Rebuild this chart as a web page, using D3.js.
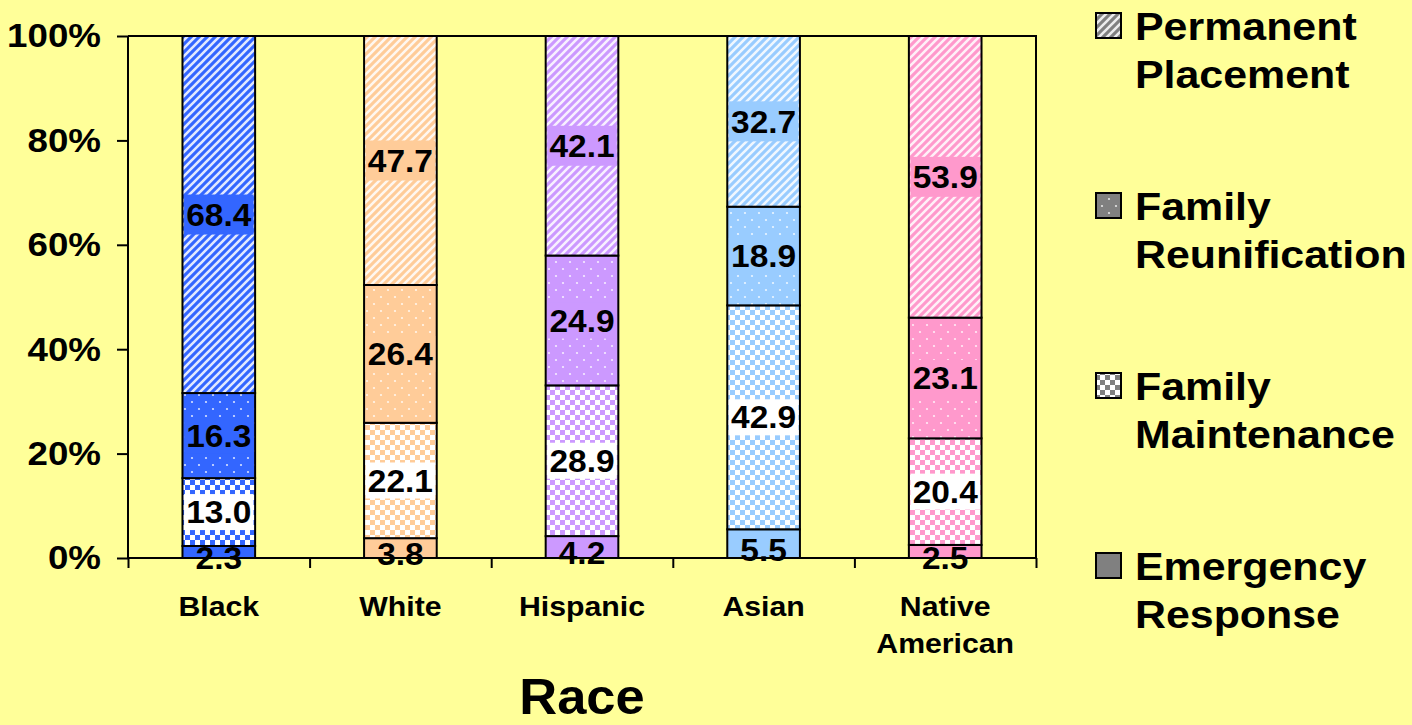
<!DOCTYPE html>
<html>
<head>
<meta charset="utf-8">
<script src="https://cdn.jsdelivr.net/npm/d3@7"></script>
<style>
  body { margin: 0; background: #FFFF99; }
  text { font-family: Arial, "Liberation Sans", sans-serif; font-weight: bold; fill: #000; }
</style>
</head>
<body>
<svg id="chart"></svg>
<script>
// categories and series (bottom to top of each stack)
const categories = ["Black", "White", "Hispanic", "Asian", "Native American"];
const seriesNames = ["Emergency Response", "Family Maintenance", "Family Reunification", "Permanent Placement"];
const emergency = [2.3, 3.8, 4.2, 5.5, 2.5];
const maintenance = [13.0, 22.1, 28.9, 42.9, 20.4];
const reunification = [16.3, 26.4, 24.9, 18.9, 23.1];
const permanent = [68.4, 47.7, 42.1, 32.7, 53.9];
const yTicks = [0, 0.2, 0.4, 0.6, 0.8, 1];

// colour of each category's bar, pattern of each series
const barColors = ["#3366FF", "#FFCC99", "#CC99FF", "#99CCFF", "#FF99CC"];
const seriesPatterns = ["solid", "checker", "dots", "stripes"];

const width = 1412, height = 725;
const margin = { top: 36, left: 128, right: 376, bottom: 167 };
const plotRight = width - margin.right;
const plotBottom = height - margin.bottom;
// the original text is drawn slightly wide
const stretch = 1.08;

const svg = d3.select("#chart")
    .attr("width", width)
    .attr("height", height);

svg.append("rect")
    .attr("width", width)
    .attr("height", height)
    .attr("fill", "#FFFF99");

// build rows for the stack
const table = categories.map((c, i) => ({
    category: c,
    "Emergency Response": emergency[i],
    "Family Maintenance": maintenance[i],
    "Family Reunification": reunification[i],
    "Permanent Placement": permanent[i]
}));

const stacked = d3.stack()
    .keys(seriesNames)
    .offset(d3.stackOffsetExpand)(table);

const x = d3.scaleBand()
    .domain(categories)
    .range([margin.left, plotRight])
    .paddingInner(0.6)
    .paddingOuter(0.3);

const xSlots = d3.scaleLinear()
    .domain([0, categories.length])
    .range([margin.left, plotRight]);

const y = d3.scaleLinear()
    .domain([0, 1])
    .range([plotBottom, margin.top]);

// fill patterns
const defs = svg.append("defs");

function makePattern(id, type, color) {
    if (type === "solid") return color;
    let p = defs.append("pattern")
        .attr("id", id)
        .attr("patternUnits", "userSpaceOnUse");
    if (type === "stripes") {
        p.attr("width", 8).attr("height", 8);
        p.append("rect").attr("width", 8).attr("height", 8).attr("fill", color);
        p.append("path")
            .attr("d", "M-2,2 L2,-2 M0,8 L8,0 M6,10 L10,6")
            .attr("stroke", "#fff")
            .attr("stroke-width", 2.6)
            .attr("opacity", 0.85);
    } else if (type === "checker") {
        p.attr("width", 10).attr("height", 10);
        p.append("rect").attr("width", 10).attr("height", 10).attr("fill", "#fff");
        p.append("rect").attr("width", 5).attr("height", 5).attr("fill", color);
        p.append("rect").attr("x", 5).attr("y", 5).attr("width", 5).attr("height", 5).attr("fill", color);
    } else if (type === "dots") {
        p.attr("width", 14).attr("height", 14);
        p.append("rect").attr("width", 14).attr("height", 14).attr("fill", color);
        p.append("circle").attr("cx", 3).attr("cy", 3).attr("r", 1.1).attr("fill", "#fff").attr("opacity", 0.8);
        p.append("circle").attr("cx", 10).attr("cy", 10).attr("r", 1.1).attr("fill", "#fff").attr("opacity", 0.8);
    }
    return "url(#" + id + ")";
}

function fillFor(si, ci) {
    return makePattern("p" + si + "_" + ci, seriesPatterns[si], barColors[ci]);
}

// plot frame (top and right)
svg.append("path")
    .attr("d", "M" + margin.left + "," + margin.top + "H" + plotRight + "V" + plotBottom)
    .attr("fill", "none")
    .attr("stroke", "#000")
    .attr("stroke-width", 2);

// bars
const layers = svg.append("g")
    .selectAll("g")
    .data(stacked)
    .enter()
    .append("g");

layers.selectAll("rect")
    .data((d, si) => d.map((v, ci) => ({ v: v, si: si, ci: ci })))
    .enter()
    .append("rect")
    .attr("x", d => x(categories[d.ci]))
    .attr("y", d => y(d.v[1]))
    .attr("width", x.bandwidth())
    .attr("height", d => y(d.v[0]) - y(d.v[1]))
    .attr("fill", d => fillFor(d.si, d.ci))
    .attr("stroke", "#000")
    .attr("stroke-width", 2);

// axes
const yAxis = svg.append("g")
    .attr("transform", "translate(" + margin.left + ",0)")
    .call(d3.axisLeft(y).tickValues(yTicks).tickFormat(d3.format(".0%")).tickSize(11).tickPadding(16));
yAxis.selectAll("text")
    .style("font-size", "34px")
    .attr("transform", "translate(-27,0) scale(" + stretch + ",1) translate(27,0)");

const xAxis = svg.append("g")
    .attr("transform", "translate(0," + plotBottom + ")")
    .call(d3.axisBottom(xSlots).tickValues(d3.range(categories.length + 1)).tickFormat("").tickSize(10));

svg.selectAll(".domain").attr("stroke-width", 2);
svg.selectAll(".tick line").attr("stroke-width", 2);
yAxis.select(".domain").attr("d", "M0," + margin.top + "V" + plotBottom);
xAxis.select(".domain").attr("d", "M" + margin.left + ",0H" + plotRight);

// data labels
const labelG = svg.append("g");
stacked.forEach((layer, si) => {
    layer.forEach((v, ci) => {
        let raw = [emergency, maintenance, reunification, permanent][si][ci];
        let cy = (y(v[0]) + y(v[1])) / 2 + (si === 0 ? 6 : 0);
        let cx = x(categories[ci]) + x.bandwidth() / 2;
        let g = labelG.append("g")
            .attr("transform", "translate(" + cx + "," + cy + ") scale(" + stretch + ",1)");
        let t = g.append("text")
            .attr("dy", "0.36em")
            .attr("text-anchor", "middle")
            .style("font-size", "31px")
            .text(d3.format(".1f")(raw));
        if (si > 0) {
            let b = t.node().getBBox();
            let h = si === 3 ? 40 : 36;
            g.insert("rect", "text")
                .attr("x", b.x - 2)
                .attr("y", -h / 2)
                .attr("width", b.width + 4)
                .attr("height", h)
                .attr("fill", si === 1 ? "#fff" : barColors[ci]);
        }
    });
});

// category labels
categories.forEach(c => {
    let cx = x(c) + x.bandwidth() / 2;
    let t = svg.append("text")
        .attr("transform", "translate(" + cx + ",616) scale(" + stretch + ",1)")
        .attr("text-anchor", "middle")
        .style("font-size", "28px");
    c.split(" ").forEach((l, i) => {
        t.append("tspan")
            .attr("x", 0)
            .attr("dy", i === 0 ? 0 : 37)
            .text(l);
    });
});

// axis title
svg.append("text")
    .attr("transform", "translate(" + (margin.left + plotRight) / 2 + ",714) scale(1.05,1)")
    .attr("text-anchor", "middle")
    .style("font-size", "50px")
    .text("Race");

// legend (top item is the top of the stack)
const legendOrder = seriesNames.slice().reverse();
legendOrder.forEach((name, i) => {
    let si = seriesNames.indexOf(name);
    let base = 40 + i * 180;
    svg.append("rect")
        .attr("x", 1096)
        .attr("y", base - 27)
        .attr("width", 25)
        .attr("height", 25)
        .attr("fill", makePattern("leg" + si, seriesPatterns[si], "#808080"))
        .attr("stroke", "#000")
        .attr("stroke-width", 2);
    let t = svg.append("text")
        .attr("transform", "translate(1135," + base + ") scale(1.1,1)")
        .style("font-size", "39px");
    name.split(" ").forEach((w, k) => {
        t.append("tspan")
            .attr("x", 0)
            .attr("dy", k === 0 ? 0 : 48)
            .text(w);
    });
});
</script>
</body>
</html>
